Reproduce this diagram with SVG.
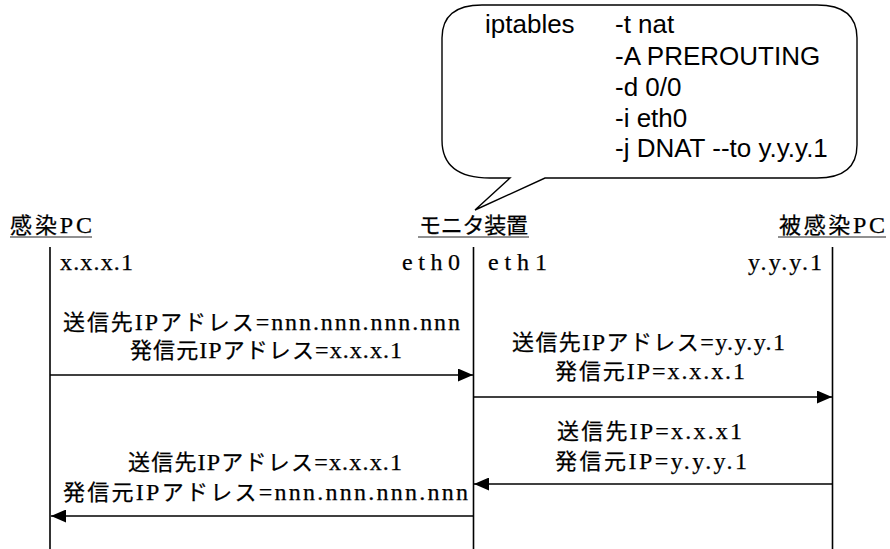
<svg xmlns="http://www.w3.org/2000/svg" width="890" height="549" viewBox="0 0 890 549">
  <style>
    .lbl { font-family: "Liberation Serif", "Noto Sans CJK JP", serif; font-size: 22px; fill: #000; stroke: #000; stroke-width: 0.25; }
    .lat { font-size: 24px; }
    .cmd { font-family: "Liberation Sans", Arial, sans-serif; font-size: 26px; fill: #000; }
    .life { stroke: #000; stroke-width: 1.6; fill: none; }
    .ul { stroke: #222; stroke-width: 1.2; }
    .msg { stroke: #000; stroke-width: 1.5; fill: none; marker-end: url(#head); }
  </style>
  <defs>
    <marker id="head" markerUnits="userSpaceOnUse" markerWidth="15" markerHeight="13" refX="15" refY="6.5" orient="auto">
      <path d="M0,0 L15,6.5 L0,13 Z" fill="#000"/>
    </marker>
  </defs>

  <rect width="890" height="549" fill="#fff"/>

  <!-- callout with the iptables rule -->
  <g id="callout">
    <path d="M482,5 L817,5 Q857,5 857,38 L857,145 Q857,178 817,178 L545,178 L475,210 L510,178 L490,178 Q442,178 442,140 L442,38 Q442,5 482,5 Z" fill="#fff" stroke="#000" stroke-width="1.4"/>
    <text class="cmd" x="485" y="33">iptables</text>
    <text class="cmd" x="615" y="33">-t nat</text>
    <text class="cmd" x="615" y="65">-A PREROUTING</text>
    <text class="cmd" x="615" y="96">-d 0/0</text>
    <text class="cmd" x="615" y="127">-i eth0</text>
    <text class="cmd" x="615" y="157">-j DNAT --to y.y.y.1</text>
  </g>

  <!-- infected PC -->
  <g id="infected-pc">
    <text class="lbl" x="10" y="233" textLength="82" lengthAdjust="spacing">感染<tspan class="lat">PC</tspan></text>
    <line class="ul" x1="10" y1="237" x2="92" y2="237"/>
    <line class="life" x1="50" y1="247" x2="50" y2="549"/>
    <text class="lbl lat" x="60" y="270" textLength="73" lengthAdjust="spacing">x.x.x.1</text>
  </g>

  <!-- monitoring device -->
  <g id="monitor">
    <text class="lbl" x="419" y="233" textLength="109" lengthAdjust="spacing">モニタ装置</text>
    <line class="ul" x1="418" y1="237" x2="529" y2="237"/>
    <line class="life" x1="473.5" y1="247" x2="473.5" y2="549"/>
    <text class="lbl lat" x="402" y="270" textLength="58" lengthAdjust="spacing">eth0</text>
    <text class="lbl lat" x="488" y="270" textLength="59" lengthAdjust="spacing">eth1</text>
  </g>

  <!-- target PC -->
  <g id="target-pc">
    <text class="lbl" x="779" y="233" textLength="106" lengthAdjust="spacing">被感染<tspan class="lat">PC</tspan></text>
    <line class="ul" x1="778" y1="237" x2="886" y2="237"/>
    <line class="life" x1="832.5" y1="247" x2="832.5" y2="549"/>
    <text class="lbl lat" x="748" y="270" textLength="74" lengthAdjust="spacing">y.y.y.1</text>
  </g>

  <!-- messages -->
  <g id="connectors">
    <line class="msg" x1="50" y1="375" x2="473" y2="375"/>
    <line class="msg" x1="473.5" y1="397" x2="832" y2="397"/>
    <line class="msg" x1="832.5" y1="484" x2="474" y2="484"/>
    <line class="msg" x1="473.5" y1="516" x2="51" y2="516"/>
  </g>

  <g id="labels">
    <text class="lbl" x="63" y="330" textLength="397" lengthAdjust="spacing">送信先<tspan class="lat">IP</tspan>アドレス<tspan class="lat">=nnn.nnn.nnn.nnn</tspan></text>
    <text class="lbl" x="130" y="358" textLength="272" lengthAdjust="spacing">発信元<tspan class="lat">IP</tspan>アドレス<tspan class="lat">=x.x.x.1</tspan></text>
    <text class="lbl" x="512" y="350" textLength="273" lengthAdjust="spacing">送信先<tspan class="lat">IP</tspan>アドレス<tspan class="lat">=y.y.y.1</tspan></text>
    <text class="lbl" x="555" y="379" textLength="190" lengthAdjust="spacing">発信元<tspan class="lat">IP=x.x.x.1</tspan></text>
    <text class="lbl" x="557" y="439" textLength="185" lengthAdjust="spacing">送信先<tspan class="lat">IP=x.x.x1</tspan></text>
    <text class="lbl" x="555" y="469" textLength="192" lengthAdjust="spacing">発信元<tspan class="lat">IP=y.y.y.1</tspan></text>
    <text class="lbl" x="128" y="470" textLength="274" lengthAdjust="spacing">送信先<tspan class="lat">IP</tspan>アドレス<tspan class="lat">=x.x.x.1</tspan></text>
    <text class="lbl" x="63" y="500" textLength="405" lengthAdjust="spacing">発信元<tspan class="lat">IP</tspan>アドレス<tspan class="lat">=nnn.nnn.nnn.nnn</tspan></text>
  </g>
</svg>
